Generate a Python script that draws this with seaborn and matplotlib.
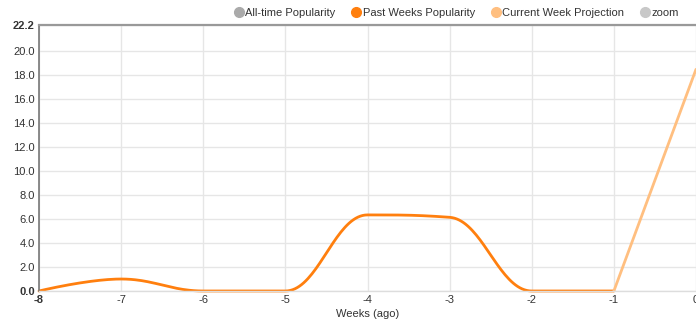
import numpy as np
import matplotlib
matplotlib.use("Agg")
import matplotlib.pyplot as plt
import seaborn as sns
import pandas as pd

weeks = [-8, -7, -6, -5, -4, -3, -2, -1]
past_values = [0.0, 1.0, 0.0, 0.0, 6.35, 6.15, 0.0, 0.0]
proj_weeks = [-1, 0]
proj_values = [0.0, 18.5]
y_ticks = [0.0, 2.0, 4.0, 6.0, 8.0, 10.0, 12.0, 14.0, 16.0, 18.0, 20.0, 22.2]
x_ticks = [-8, -7, -6, -5, -4, -3, -2, -1, 0]
legend_labels = ["All-time Popularity", "Past Weeks Popularity", "Current Week Projection", "zoom"]
legend_colors = ["#aaaaaa", "#ff7f0e", "#ffbf80", "#c8c8c8"]


def highcharts_spline(xs, ys, n=40):
    xs = np.asarray(xs, float); ys = np.asarray(ys, float)
    m = len(xs)
    lc = [(xs[i], ys[i]) for i in range(m)]
    rc = [(xs[i], ys[i]) for i in range(m)]
    s = 1.5; d = s + 1
    for i in range(1, m - 1):
        x, y = xs[i], ys[i]
        lx, ly = xs[i - 1], ys[i - 1]
        nx, ny = xs[i + 1], ys[i + 1]
        lcx = (s * x + lx) / d; lcy = (s * y + ly) / d
        rcx = (s * x + nx) / d; rcy = (s * y + ny) / d
        if rcx != lcx:
            corr = ((rcy - lcy) * (rcx - x)) / (rcx - lcx) + y - rcy
            lcy += corr; rcy += corr
        if lcy > ly and lcy > y:
            lcy = max(ly, y); rcy = 2 * y - lcy
        elif lcy < ly and lcy < y:
            lcy = min(ly, y); rcy = 2 * y - lcy
        if rcy > ny and rcy > y:
            rcy = max(ny, y); lcy = 2 * y - rcy
        elif rcy < ny and rcy < y:
            rcy = min(ny, y); lcy = 2 * y - rcy
        lc[i] = (lcx, lcy); rc[i] = (rcx, rcy)
    px, py = [], []
    t = np.linspace(0, 1, n)
    for i in range(1, m):
        p0 = np.array([xs[i - 1], ys[i - 1]]); p1 = np.array(rc[i - 1])
        p2 = np.array(lc[i]); p3 = np.array([xs[i], ys[i]])
        b = ((1 - t) ** 3)[:, None] * p0 + (3 * (1 - t) ** 2 * t)[:, None] * p1 \
            + (3 * (1 - t) * t ** 2)[:, None] * p2 + (t ** 3)[:, None] * p3
        px.extend(b[:, 0]); py.extend(b[:, 1])
    return np.array(px), np.array(py)


sns.set_style("white")
plt.rcParams['font.family'] = ['Liberation Sans', 'DejaVu Sans']

fig = plt.figure(figsize=(6.96, 3.23), dpi=100)
ax = fig.add_axes([39 / 696, 1 - 291 / 323, (696 - 39) / 696, (291 - 25) / 323])

sx, sy = highcharts_spline(weeks, past_values)
df_past = pd.DataFrame({"week": sx, "value": sy})
df_proj = pd.DataFrame({"week": proj_weeks, "value": proj_values})
sns.lineplot(data=df_past, x="week", y="value", ax=ax, color="#ff7f0e", linewidth=2, sort=False, clip_on=False)
sns.lineplot(data=df_proj, x="week", y="value", ax=ax, color="#ffbf80", linewidth=2, clip_on=False)

ax.set_xlim(-8, 0)
ax.set_ylim(0, 22.2)
ax.set_xticks(x_ticks)
ax.set_yticks(y_ticks)
ax.set_xticklabels([str(v) for v in x_ticks])
ax.set_yticklabels([f"{v:.1f}" for v in y_ticks])
for lbl in ax.get_yticklabels():
    if lbl.get_text() in ("22.2", "0.0"):
        lbl.set_fontweight("bold")
for lbl in ax.get_xticklabels():
    if lbl.get_text() == "-8":
        lbl.set_fontweight("bold")
ax.tick_params(axis="both", length=0, labelsize=8, colors="#333333", pad=3)
ax.grid(True, color="#e6e6e6", linewidth=1)
ax.set_axisbelow(True)
ax.spines["right"].set_visible(False)
ax.spines["left"].set_color("#777777")
ax.spines["left"].set_linewidth(1.2)
ax.spines["top"].set_color("#999999")
ax.spines["top"].set_linewidth(1.6)
ax.spines["bottom"].set_color("#dddddd")
ax.spines["bottom"].set_linewidth(1)
ax.set_xlabel("Weeks (ago)", fontsize=8, color="#333333", labelpad=3)
ax.set_ylabel("")

handles = [plt.Line2D([], [], marker="o", linestyle="", markersize=7, color=c) for c in legend_colors]
fig.legend(handles, legend_labels, loc="upper right", bbox_to_anchor=(0.99, 1.005), ncol=4, frameon=False,
           fontsize=8, handletextpad=-0.15, handlelength=1.5, columnspacing=1.1, labelcolor="#333333")

fig.savefig("out.png", dpi=100)
